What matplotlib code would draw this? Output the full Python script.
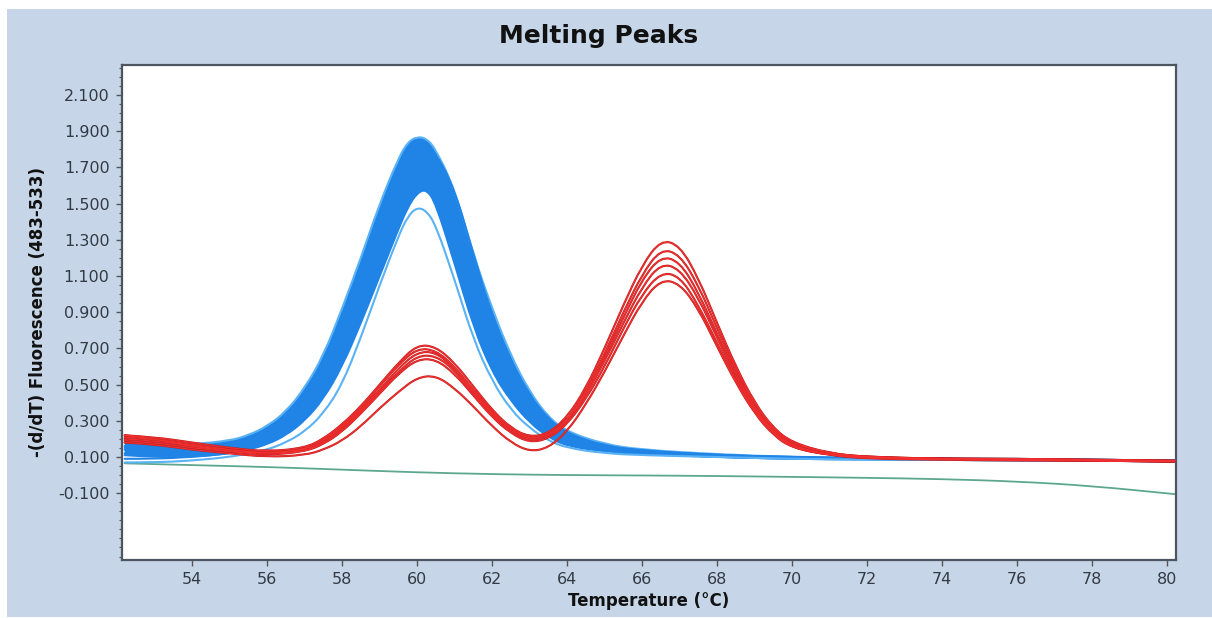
import matplotlib.pyplot as plt
from matplotlib.ticker import MultipleLocator, FormatStrFormatter
from matplotlib.patches import Rectangle, PathPatch
from matplotlib.path import Path

blue_temps = [52.2, 53, 54, 55, 55.5, 56, 56.5, 57, 57.5, 58, 58.5, 59, 59.5, 59.75, 60,
              60.25, 60.5, 61, 61.5, 62, 62.5, 63, 63.5, 64, 65, 66, 68, 70, 72, 74, 76, 78, 80.2]
red_temps = [52.2, 53, 54, 55, 56, 57, 57.5, 58, 58.5, 59, 59.5, 60, 60.5, 61, 61.5, 62, 62.5,
             63, 63.5, 64, 64.5, 65, 65.5, 66, 66.5, 67, 67.5, 68, 68.5, 69, 69.5, 70, 71, 72,
             74, 76, 78, 80.2]
green_temps = [52.2, 54, 56, 58, 60, 62, 64, 66, 68, 70, 72, 74, 76, 78, 80.2]

# blue samples (single peak ~60 °C)
blue_1 = [.20, .18, .17, .19, .22, .27, .35, .48, .66, .92, 1.20, 1.50, 1.75, 1.84, 1.87,
          1.86, 1.80, 1.58, 1.22, .92, .66, .46, .32, .24, .17, .14, .115, .10, .095, .09, .09, .085, .08]
blue_2 = [.18, .16, .15, .17, .20, .24, .31, .42, .58, .80, 1.06, 1.36, 1.64, 1.76, 1.82,
          1.83, 1.78, 1.54, 1.16, .84, .60, .42, .30, .22, .16, .135, .11, .10, .09, .09, .085, .085, .08]
blue_3 = [.12, .12, .12, .15, .18, .23, .30, .42, .60, .84, 1.10, 1.38, 1.63, 1.73, 1.78,
          1.77, 1.70, 1.46, 1.08, .76, .54, .38, .27, .20, .15, .13, .105, .095, .09, .09, .085, .08, .08]
blue_4 = [.16, .15, .14, .15, .17, .20, .25, .33, .46, .64, .88, 1.16, 1.45, 1.62, 1.74,
          1.80, 1.78, 1.58, 1.22, .88, .63, .44, .31, .23, .16, .135, .11, .10, .095, .09, .09, .085, .08]
blue_5 = [.15, .14, .14, .16, .18, .22, .28, .38, .52, .72, .96, 1.25, 1.52, 1.65, 1.73,
          1.75, 1.68, 1.42, 1.04, .73, .52, .36, .26, .20, .15, .13, .11, .095, .09, .09, .085, .085, .08]
blue_6 = [.09, .09, .10, .12, .14, .18, .24, .34, .49, .70, .95, 1.24, 1.50, 1.62, 1.68,
          1.70, 1.64, 1.38, 1.00, .70, .50, .35, .25, .19, .14, .12, .10, .09, .09, .085, .085, .08, .08]
blue_7 = [.14, .13, .13, .14, .16, .19, .24, .32, .45, .64, .88, 1.16, 1.42, 1.55, 1.63,
          1.65, 1.60, 1.30, .92, .64, .46, .32, .23, .18, .14, .12, .10, .09, .09, .085, .085, .08, .08]
blue_8 = [.11, .10, .10, .12, .14, .17, .22, .30, .42, .60, .84, 1.10, 1.36, 1.48, 1.56,
          1.58, 1.50, 1.17, .82, .57, .41, .29, .21, .16, .13, .115, .10, .09, .085, .085, .08, .08, .075]
blue_9 = [.07, .07, .08, .10, .12, .14, .18, .24, .34, .50, .76, 1.05, 1.32, 1.43, 1.48,
          1.46, 1.38, 1.08, .75, .52, .36, .26, .19, .15, .12, .11, .10, .09, .085, .085, .08, .08, .075]

# red samples (two peaks ~60 °C and ~66.6 °C)
red_1 = [.22, .21, .18, .15, .13, .15, .20, .28, .38, .50, .62, .72, .71, .62, .49, .36, .26,
         .21, .23, .32, .48, .70, .94, 1.16, 1.30, 1.27, 1.09, .84, .60, .40, .26, .18, .12, .10,
         .09, .09, .085, .08]
red_2 = [.21, .20, .17, .14, .12, .14, .19, .27, .37, .49, .61, .70, .69, .60, .47, .35, .25,
         .20, .22, .30, .46, .67, .90, 1.11, 1.25, 1.22, 1.05, .81, .58, .39, .25, .17, .12, .10,
         .09, .09, .085, .08]
red_3 = [.22, .20, .16, .14, .12, .14, .19, .26, .36, .47, .59, .68, .68, .59, .46, .34, .25,
         .20, .22, .30, .45, .65, .87, 1.08, 1.21, 1.18, 1.01, .78, .56, .37, .24, .16, .11, .10,
         .09, .09, .08, .075]
red_4 = [.20, .19, .16, .13, .12, .13, .18, .25, .35, .46, .57, .66, .66, .58, .45, .33, .24,
         .19, .21, .29, .44, .63, .84, 1.04, 1.17, 1.14, .98, .76, .54, .36, .23, .16, .11, .095,
         .09, .085, .08, .075]
red_5 = [.19, .18, .15, .13, .11, .13, .17, .24, .34, .45, .56, .64, .64, .56, .44, .32, .23,
         .18, .20, .28, .42, .60, .81, 1.00, 1.12, 1.10, .94, .73, .52, .35, .23, .15, .11, .095,
         .09, .085, .08, .075]
red_6 = [.18, .17, .14, .12, .10, .11, .14, .19, .27, .37, .46, .54, .55, .48, .38, .27, .18,
         .13, .15, .24, .39, .57, .77, .96, 1.08, 1.06, .92, .71, .51, .34, .22, .15, .11, .09,
         .085, .08, .08, .075]

# negative control
green_ctrl = [.065, .055, .045, .03, .015, .005, 0.0, -.002, -.005, -.01, -.015, -.022, -.035,
              -.06, -.105]

y_ticks = [-0.1, 0.1, 0.3, 0.5, 0.7, 0.9, 1.1, 1.3, 1.5, 1.7, 1.9, 2.1]
x_ticks = [54, 56, 58, 60, 62, 64, 66, 68, 70, 72, 74, 76, 78, 80]

blue_curves = [blue_1, blue_2, blue_3, blue_4, blue_5, blue_6, blue_7, blue_8, blue_9]
red_curves = [red_1, red_2, red_3, red_4, red_5, red_6]


def smooth(xs, ys):
    # quadratic bezier through the midpoints, read points used as control points
    pts = list(zip(xs, ys))
    verts = [pts[0]]
    codes = [Path.MOVETO]
    for i in range(1, len(pts) - 1):
        mid = ((pts[i][0] + pts[i + 1][0]) / 2, (pts[i][1] + pts[i + 1][1]) / 2)
        verts += [pts[i], mid]
        codes += [Path.CURVE3, Path.CURVE3]
    verts.append(pts[-1])
    codes.append(Path.LINETO)
    return verts, codes


def draw_curve(ax, xs, ys, **kw):
    v, c = smooth(xs, ys)
    ax.add_patch(PathPatch(Path(v, c), fill=False, joinstyle='round', capstyle='round', **kw))


def fill_band(ax, xs, upper, lower, **kw):
    v1, c1 = smooth(xs, upper)
    v2, c2 = smooth(xs[::-1], lower[::-1])
    c2[0] = Path.LINETO
    verts = v1 + v2 + [v1[0]]
    codes = c1 + c2 + [Path.CLOSEPOLY]
    ax.add_patch(PathPatch(Path(verts, codes), **kw))


fig = plt.figure(figsize=(12.12, 6.18), dpi=100, facecolor='white')
fig.add_artist(Rectangle((7 / 1212, 1 / 618), 1, 608 / 618, transform=fig.transFigure,
                         facecolor='#c6d6e8', edgecolor='none', zorder=-5))

ax = fig.add_axes([0.1007, 0.0939, 0.8696, 0.8009])
ax.set_facecolor('white')

draw_curve(ax, green_temps, green_ctrl, edgecolor='#5da88c', lw=1.3, zorder=2)

# dense blue band
fill_band(ax, blue_temps, blue_1, blue_8, facecolor='#1f84e6', edgecolor='none', zorder=3)
for i, c in enumerate(blue_curves):
    col = '#5ab2f6' if i in (0, 8) else '#1f84e6'
    draw_curve(ax, blue_temps, c, edgecolor=col, lw=1.5, zorder=4)

for c in red_curves:
    draw_curve(ax, red_temps, c, edgecolor='#c21c1c', lw=1.5, zorder=5)
    draw_curve(ax, red_temps, c, edgecolor='#f23030', lw=0.8, zorder=6)

ax.set_xlim(52.13, 80.24)
ax.set_ylim(-0.469, 2.266)
ax.set_xticks(x_ticks)
ax.set_yticks(y_ticks)
ax.yaxis.set_major_formatter(FormatStrFormatter('%.3f'))
ax.yaxis.set_minor_locator(MultipleLocator(0.05))
ax.tick_params(axis='both', which='major', direction='out', length=4, width=1,
               color='#555555', labelsize=11.5, labelcolor='#333a44', pad=5)
ax.tick_params(axis='y', which='minor', direction='out', length=2, width=0.8, color='#555555')

for s in ax.spines.values():
    s.set_color('#4d5660')
    s.set_linewidth(1.6)

ax.set_xlabel('Temperature (°C)', fontsize=12, fontweight='bold', color='#111111', labelpad=3)
ax.set_ylabel('-(d/dT) Fluorescence (483-533)', fontsize=12, fontweight='bold',
              color='#111111', labelpad=8)
fig.text(599 / 1212, 1 - 36 / 618, 'Melting Peaks', fontsize=18, fontweight='bold',
         ha='center', va='center', color='#111111')

fig.savefig('out.png', dpi=100, facecolor=fig.get_facecolor())
